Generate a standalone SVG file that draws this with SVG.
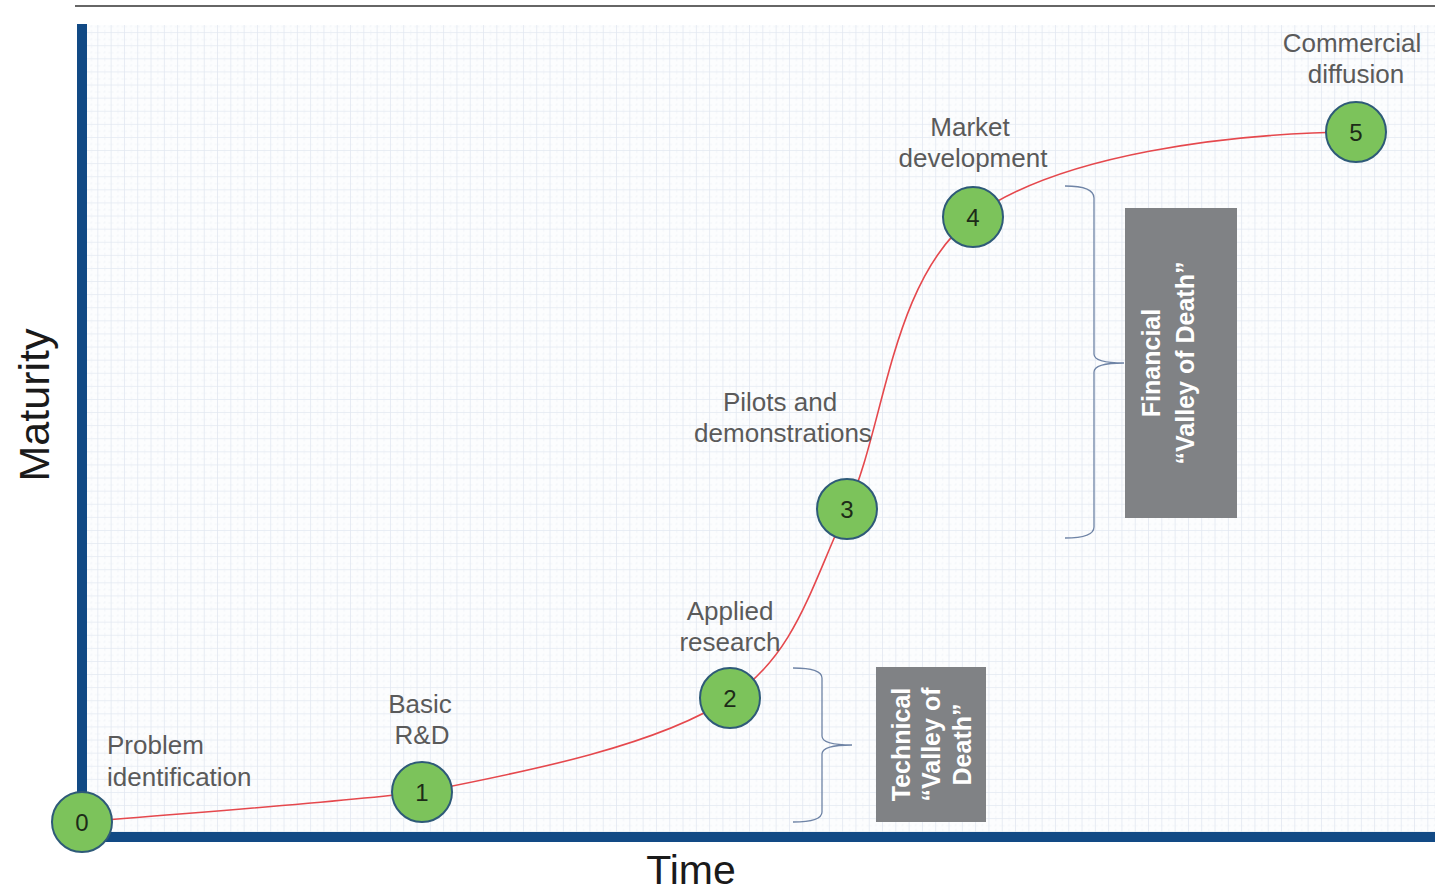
<svg xmlns="http://www.w3.org/2000/svg" width="1435" height="893" viewBox="0 0 1435 893">
<defs>
<pattern id="grid" patternUnits="userSpaceOnUse" x="85" y="20" width="13.3" height="13.1">
<rect width="13.3" height="13.1" fill="#fcfdfe"/>
<path d="M13 0 V13.1 M0 13 H13.3" stroke="#e2e8f1" stroke-width="1" fill="none"/>
<path d="M6.5 0 V13.1 M0 6.5 H13.3" stroke="#f2f5f9" stroke-width="1" stroke-dasharray="2 3" fill="none"/>
</pattern>
<style>
.lbl{font-family:"Liberation Sans",Arial,sans-serif;font-size:26px;fill:#5a5a5a;text-anchor:middle}
.num{font-family:"Liberation Sans",Arial,sans-serif;font-size:24px;fill:#1d2b18;text-anchor:middle}
.node circle{fill:#7cc35b;stroke:#2e5a78;stroke-width:2}
.box{fill:#808285}
.boxt{font-family:"Liberation Sans",Arial,sans-serif;font-size:25px;font-weight:bold;fill:#ffffff;text-anchor:middle}
.brace{fill:none;stroke:#6f84a6;stroke-width:1.3}
.axis{fill:#124a85}
</style>
</defs>
<rect width="1435" height="893" fill="#ffffff"/>
<line x1="75" y1="6" x2="1435" y2="6" stroke="#333333" stroke-width="1.5"/>
<rect x="87" y="25" width="1348" height="807" fill="url(#grid)"/>
<g id="axes">
<rect class="axis" x="77" y="24" width="10" height="818"/>
<rect class="axis" x="77" y="832" width="1358" height="10"/>
<text x="691" y="884" style="font-family:'Liberation Sans',Arial,sans-serif;font-size:41px;fill:#1a1a1a;text-anchor:middle">Time</text>
<text transform="translate(49,405) rotate(-90)" style="font-family:'Liberation Sans',Arial,sans-serif;font-size:43px;fill:#1a1a1a;text-anchor:middle">Maturity</text>
</g>
<g id="connectors">
<path d="M82 822 C200 812 330 803 422 792 C530 771 659 745 730 698 C795 655 810 589 847 509 C885 429 890 280 973 217 C1058 154 1230 133 1356 132" fill="none" stroke="#e5484d" stroke-width="1.6"/>
</g>
<g id="brace-technical">
<path class="brace" d="M793 668 Q822 668 822 678 L822 736 Q822 745 852 745 Q822 745 822 754 L822 812 Q822 822 793 822"/>
</g>
<g id="brace-financial">
<path class="brace" d="M1065 186 Q1094 186 1094 198 L1094 354 Q1094 363 1124 363 Q1094 363 1094 372 L1094 527 Q1094 538 1065 538"/>
</g>
<g id="box-technical">
<rect class="box" x="876" y="667" width="110" height="155"/>
<g transform="translate(0,744.5) rotate(-90)">
<text class="boxt" x="0" y="910">Technical</text>
<text class="boxt" x="0" y="940">“Valley of</text>
<text class="boxt" x="0" y="971">Death”</text>
</g>
</g>
<g id="box-financial">
<rect class="box" x="1125" y="208" width="112" height="310"/>
<g transform="translate(0,363) rotate(-90)">
<text class="boxt" x="0" y="1160">Financial</text>
<text class="boxt" x="0" y="1194">“Valley of Death”</text>
</g>
</g>
<g id="node0" class="node">
<circle cx="82" cy="822" r="30"/>
<text class="num" x="82" y="831">0</text>
<text class="lbl" style="text-anchor:start" x="107" y="754">Problem</text>
<text class="lbl" style="text-anchor:start" x="107" y="786">identification</text>
</g>
<g id="node1" class="node">
<circle cx="422" cy="792" r="30"/>
<text class="num" x="422" y="801">1</text>
<text class="lbl" x="420" y="713">Basic</text>
<text class="lbl" x="422" y="744">R&amp;D</text>
</g>
<g id="node2" class="node">
<circle cx="730" cy="698" r="30"/>
<text class="num" x="730" y="707">2</text>
<text class="lbl" x="730" y="620">Applied</text>
<text class="lbl" x="730" y="651">research</text>
</g>
<g id="node3" class="node">
<circle cx="847" cy="509" r="30"/>
<text class="num" x="847" y="518">3</text>
<text class="lbl" x="780" y="411">Pilots and</text>
<text class="lbl" x="783" y="442">demonstrations</text>
</g>
<g id="node4" class="node">
<circle cx="973" cy="217" r="30"/>
<text class="num" x="973" y="226">4</text>
<text class="lbl" x="970" y="136">Market</text>
<text class="lbl" x="973" y="167">development</text>
</g>
<g id="node5" class="node">
<circle cx="1356" cy="132" r="30"/>
<text class="num" x="1356" y="141">5</text>
<text class="lbl" x="1352" y="52">Commercial</text>
<text class="lbl" x="1356" y="83">diffusion</text>
</g>
</svg>
